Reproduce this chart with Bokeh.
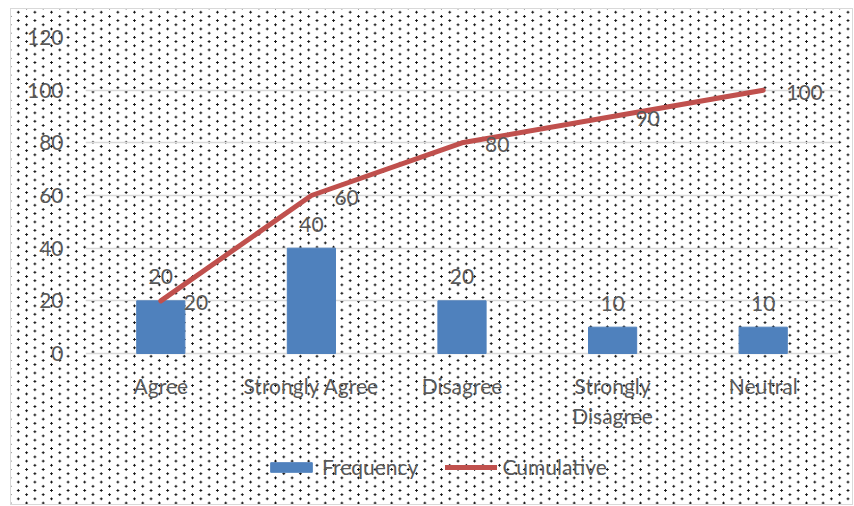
from bokeh.plotting import figure
from bokeh.models import ColumnDataSource, Legend, LegendItem, Range1d, FixedTicker
from bokeh.core.properties import value
from bokeh.embed import file_html
from bokeh.resources import INLINE

categories = ["Agree", "Strongly Agree", "Disagree", "Strongly Disagree", "Neutral"]
frequency = [20, 40, 20, 10, 10]
cumulative = [20, 60, 80, 90, 100]
y_ticks = [0, 20, 40, 60, 80, 100, 120]

FONT = "Lato"
FS = "21px"
TXT = "#595959"
BLUE = "#4F81BD"
RED = "#C0504D"

xpos = list(range(len(categories)))
src = ColumnDataSource(dict(
    x=xpos, freq=frequency, cum=cumulative,
    freq_lbl=[str(v) for v in frequency], cum_lbl=[str(v) for v in cumulative],
))

W, H = 843, 497
TOP, BOTTOM = 29, 6
px_per_unit = (353 - 37) / 120.0          # scale of the value axis in the reference
y_low = -(H - TOP - BOTTOM - 120 * px_per_unit) / px_per_unit  # room under 0 for labels + legend

p = figure(width=W, height=H, x_range=Range1d(-0.5, len(categories) - 0.5),
           y_range=Range1d(y_low, 120), output_backend="svg", toolbar_location=None,
           min_border_left=75, min_border_right=15, min_border_top=TOP, min_border_bottom=BOTTOM)

p.background_fill_color = None
p.border_fill_color = None
p.outline_line_color = None
dot = "radial-gradient(circle, #111 1.05px, transparent 1.35px)"
p.styles = {
    "margin": "8px 0 0 10px",
    "background-color": "white",
    "background-image": f"{dot}, {dot}",
    "background-size": "16.6px 8.4px",
    "background-position": "0 0, 8.3px 4.2px",
    "outline": "1.5px solid #d9d9d9",
    "outline-offset": "-1.5px",
}

bars = p.vbar(x="x", top="freq", width=0.32, source=src, color=BLUE)
line = p.line(x="x", y="cum", source=src, line_color=RED, line_width=5,
              line_cap="round", line_join="round")

p.text(x="x", y="freq", text="freq_lbl", source=src, text_align="center",
       text_baseline="middle", y_offset=-24, text_font=value(FONT),
       text_font_size=FS, text_color=TXT)
p.text(x="x", y="cum", text="cum_lbl", source=src, text_align="left",
       text_baseline="middle", x_offset=23, y_offset=2, text_font=value(FONT),
       text_font_size=FS, text_color=TXT)

p.yaxis.ticker = FixedTicker(ticks=y_ticks)
p.xaxis.ticker = FixedTicker(ticks=xpos)
p.xaxis.major_label_overrides = {
    i: (c.replace(" ", "\n", 1) if len(c) > 15 else c) for i, c in enumerate(categories)
}
p.xaxis.fixed_location = 0
for ax in (p.xaxis[0], p.yaxis[0]):
    ax.axis_line_color = None
    ax.major_tick_line_color = None
    ax.minor_tick_line_color = None
    ax.major_tick_out = 0
    ax.major_tick_in = 0
    ax.major_label_text_font = FONT
    ax.major_label_text_font_size = FS
    ax.major_label_text_color = TXT
p.yaxis.major_label_standoff = 22
p.xaxis.major_label_standoff = 19

p.xgrid.grid_line_color = None
p.ygrid.grid_line_color = "#d9d9d9"
p.ygrid.grid_line_width = 1.5

legend = Legend(items=[LegendItem(label="Frequency", renderers=[bars]),
                       LegendItem(label="Cumulative", renderers=[line])],
                orientation="horizontal", location=(180, 20),
                glyph_width=52, glyph_height=12, label_standoff=5, spacing=27,
                label_text_font=FONT, label_text_font_size=FS, label_text_color=TXT,
                background_fill_alpha=0, border_line_color=None, margin=0, padding=0)
p.add_layout(legend)

open("out.html", "w").write(file_html(p, INLINE))
